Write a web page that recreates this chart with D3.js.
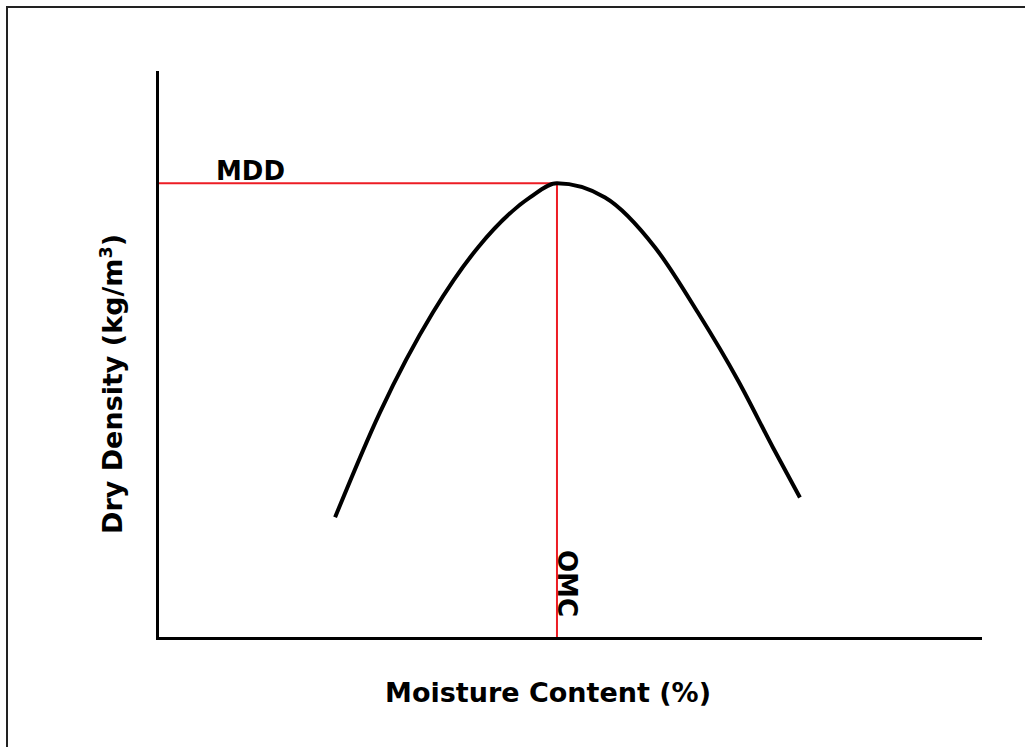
<!DOCTYPE html>
<html>
<head>
<meta charset="utf-8">
<script src="https://cdn.jsdelivr.net/npm/d3@7"></script>
<style>
  body { margin: 0; background: #fff; }
  text { font-family: "DejaVu Sans", Verdana, sans-serif; font-weight: bold; }
</style>
</head>
<body>
<svg id="view" width="1025" height="747"></svg>
<script>
// DATA
var MOISTURE = [5.41, 6.77, 8.38, 9.75, 11.33, 12.15, 13.61, 15.13, 16.43, 17.65, 18.71, 19.53];
var DENSITY  = [1628, 1739, 1845, 1914, 1967, 1982, 1967, 1914, 1845, 1773, 1702, 1649];
var PEAK = {moisture: 12.15, density: 1982};
var X_LABEL = "Moisture Content (%)";
var Y_LABEL = "Dry Density (kg/m";
var PEAK_X_LABEL = "OMC";
var PEAK_Y_LABEL = "MDD";

// CONSTANTS
var RED = "#ed1c24";
var FONT_SIZE = 27;

function main() {
    var svg = d3.select("#view");

    // frame
    svg.append("rect")
        .attr("x", 7)
        .attr("y", 7)
        .attr("width", 1030)
        .attr("height", 760)
        .attr("fill", "none")
        .attr("stroke", "#222")
        .attr("stroke-width", 2)
        ;

    var x = d3.scaleLinear().domain([0, 25]).range([157, 980]);
    var y = d3.scaleLinear().domain([1500, 2100]).range([638, 72]);

    var points = MOISTURE.map(function(m, i) { return [m, DENSITY[i]]; });

    // red guide lines to the peak
    svg.append("line")
        .attr("x1", x(0))
        .attr("y1", y(PEAK.density))
        .attr("x2", x(PEAK.moisture))
        .attr("y2", y(PEAK.density))
        .attr("stroke", RED)
        .attr("stroke-width", 2)
        ;
    svg.append("line")
        .attr("x1", x(PEAK.moisture))
        .attr("y1", y(PEAK.density))
        .attr("x2", x(PEAK.moisture))
        .attr("y2", y(1500))
        .attr("stroke", RED)
        .attr("stroke-width", 2)
        ;

    // compaction curve
    var line = d3.line()
        .x(function(d) { return x(d[0]); })
        .y(function(d) { return y(d[1]); })
        .curve(d3.curveMonotoneX)
        ;
    svg.append("path")
        .datum(points)
        .attr("d", line)
        .attr("fill", "none")
        .attr("stroke", "black")
        .attr("stroke-width", 4)
        ;

    // axes (plain lines, no ticks)
    svg.append("g")
        .attr("transform", "translate(0," + y(1500) + ")")
        .call(d3.axisBottom(x).tickValues([]).tickSizeOuter(0));
    svg.append("g")
        .attr("transform", "translate(" + x(0) + ",0)")
        .call(d3.axisLeft(y).tickValues([]).tickSizeOuter(0));
    svg.selectAll(".domain")
        .attr("stroke", "black")
        .attr("stroke-width", 3)
        .attr("stroke-linecap", "square")
        ;

    // labels
    svg.append("text")
        .attr("x", 548)
        .attr("y", 702)
        .attr("text-anchor", "middle")
        .attr("font-size", FONT_SIZE)
        .text(X_LABEL)
        ;
    var yl = svg.append("text")
        .attr("transform", "translate(122,384) rotate(-90)")
        .attr("text-anchor", "middle")
        .attr("font-size", FONT_SIZE)
        .text(Y_LABEL)
        ;
    yl.append("tspan")
        .attr("font-size", FONT_SIZE * 0.65)
        .attr("dy", -10)
        .text("3");
    yl.append("tspan")
        .attr("dy", 10)
        .text(")");

    svg.append("text")
        .attr("x", 216)
        .attr("y", 180)
        .attr("font-size", 26)
        .text(PEAK_Y_LABEL)
        ;
    svg.append("text")
        .attr("transform", "translate(558,550) rotate(90)")
        .attr("font-size", 26)
        .text(PEAK_X_LABEL)
        ;
}

main();
</script>
</body>
</html>
